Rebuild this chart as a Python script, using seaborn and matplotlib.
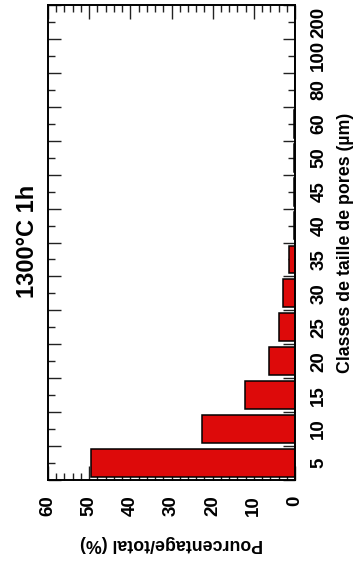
import matplotlib
matplotlib.use("Agg")
import matplotlib.pyplot as plt
import numpy as np
import pandas as pd
import seaborn as sns
from matplotlib.ticker import FixedLocator, MultipleLocator

# pore size classes (µm) and share of total (%)
classes = ["5", "10", "15", "20", "25", "30", "35", "40", "45", "50", "60", "80", "100", "200"]
pourcentage = [49.6, 22.5, 12.1, 6.2, 3.8, 2.8, 1.5, 0.3, 0.25, 0.2, 0.2, 0.0, 0.0, 0.0]

sns.set_style("ticks")
plt.rcParams["font.family"] = ["Liberation Sans", "DejaVu Sans"]
plt.rcParams["font.weight"] = "bold"
plt.rcParams["text.color"] = "black"
plt.rcParams["axes.labelcolor"] = "black"
plt.rcParams["xtick.color"] = "black"
plt.rcParams["ytick.color"] = "black"

df = pd.DataFrame({"classe": classes, "pct": pourcentage})

fig = plt.figure(figsize=(3.58, 5.74), dpi=100)
ax = fig.add_axes([48 / 358, 94 / 574, 247 / 358, 475 / 574])

sns.barplot(data=df, x="pct", y="classe", order=classes, orient="h",
            color="#dd0a0a", saturation=1, width=0.82,
            edgecolor="black", linewidth=1.1, ax=ax)

# chart is drawn "rotated": categories bottom->top, values right->left
ax.set_ylim(-0.5, len(classes) - 0.5)
ax.set_xlim(60, 0)

for s in ax.spines.values():
    s.set_visible(True)
    s.set_linewidth(1.4)
    s.set_color("black")

ax.xaxis.set_major_locator(MultipleLocator(10))
ax.xaxis.set_minor_locator(MultipleLocator(2))
ax.tick_params(axis="x", which="both", direction="in", top=True, bottom=True,
               width=1, color="#222222", labelcolor="black")
ax.tick_params(axis="x", which="major", length=10, labelsize=13.5, labelrotation=90, pad=11)
ax.tick_params(axis="x", which="minor", length=5)

ax.yaxis.set_minor_locator(FixedLocator(np.arange(-0.5, len(classes), 1.0)))
ax.tick_params(axis="y", which="both", direction="in", left=True, right=True,
               labelleft=False, labelright=True, width=1, color="#222222",
               labelcolor="black")
ax.tick_params(axis="y", which="major", length=5, labelsize=13.5, labelrotation=90, pad=11)
ax.tick_params(axis="y", which="minor", length=9)
for lbl in ax.get_yticklabels():
    lbl.set_verticalalignment("center")

ax.set_xlabel("Pourcentage/total (%)", rotation=180, fontsize=12.8,
              fontweight="bold", labelpad=14, color="black")
ax.yaxis.set_label_position("right")
ax.set_ylabel("Classes de taille de pores (µm)", rotation=90, fontsize=12.8,
              fontweight="bold", labelpad=7, color="black")

fig.text(28 / 358, 1 - 241 / 574, "1300°C 1h", rotation=90, ha="center",
         va="center", fontsize=17, fontweight="bold", color="black")

fig.savefig("out.png", dpi=100, facecolor="white")
